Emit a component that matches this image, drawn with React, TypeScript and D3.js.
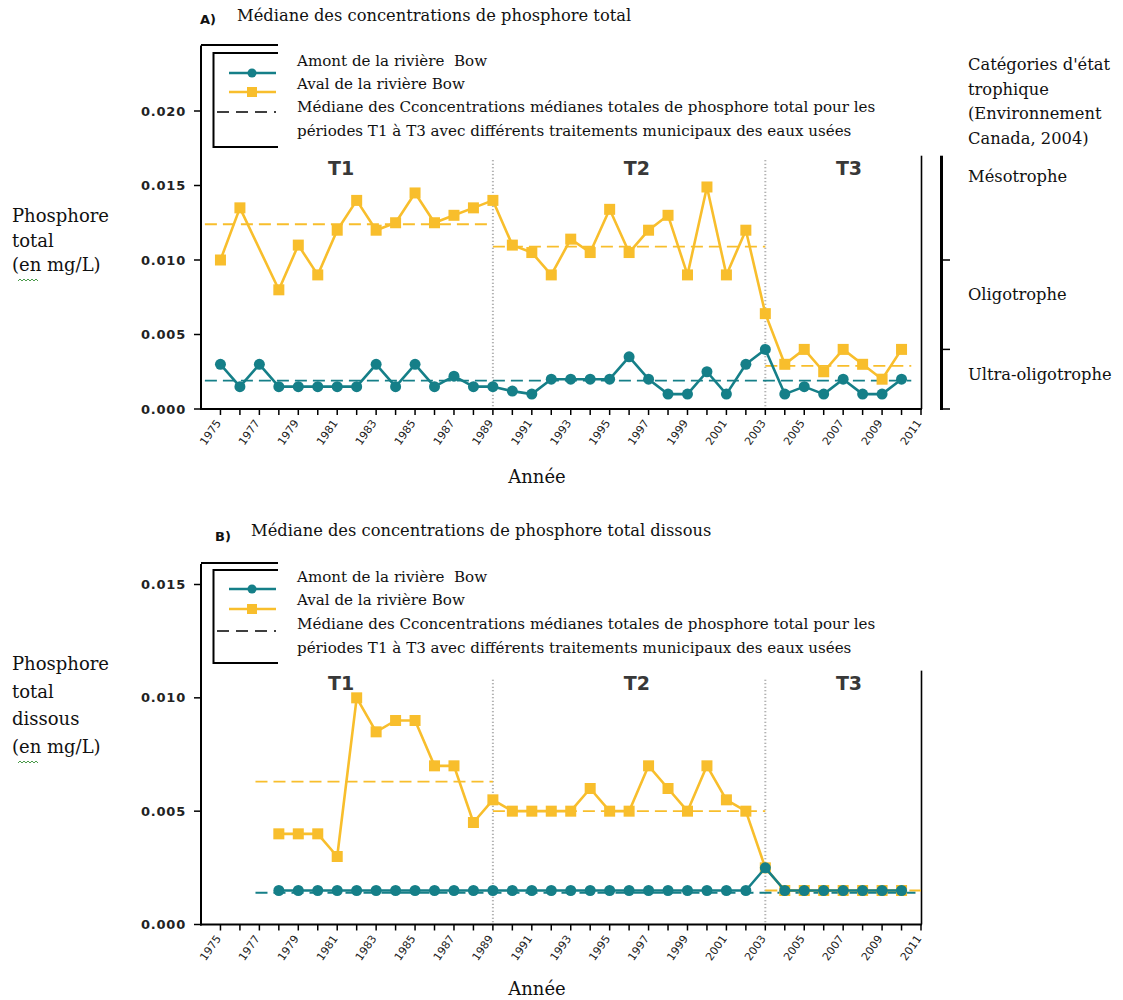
import { line, scaleLinear } from "d3";

// ---- data -------------------------------------------------------------
const YEARS_TOTAL = [
  1975, 1976, 1977, 1978, 1979, 1980, 1981, 1982, 1983, 1984, 1985, 1986,
  1987, 1988, 1989, 1990, 1991, 1992, 1993, 1994, 1995, 1996, 1997, 1998,
  1999, 2000, 2001, 2002, 2003, 2004, 2005, 2006, 2007, 2008, 2009, 2010,
];
const AMONT_TOTAL = [
  0.003, 0.0015, 0.003, 0.0015, 0.0015, 0.0015, 0.0015, 0.0015, 0.003, 0.0015, 0.003, 0.0015,
  0.0022, 0.0015, 0.0015, 0.0012, 0.001, 0.002, 0.002, 0.002, 0.002, 0.0035, 0.002, 0.001,
  0.001, 0.0025, 0.001, 0.003, 0.004, 0.001, 0.0015, 0.001, 0.002, 0.001, 0.001, 0.002,
];
const AVAL_TOTAL = [
  0.01, 0.0135, null, 0.008, 0.011, 0.009, 0.012, 0.014, 0.012, 0.0125, 0.0145, 0.0125,
  0.013, 0.0135, 0.014, 0.011, 0.0105, 0.009, 0.0114, 0.0105, 0.0134, 0.0105, 0.012, 0.013,
  0.009, 0.0149, 0.009, 0.012, 0.0064, 0.003, 0.004, 0.0025, 0.004, 0.003, 0.002, 0.004,
];
const MEDIANE_AVAL_TOTAL = [0.0124, 0.0109, 0.0029];
const MEDIANE_AMONT_TOTAL = 0.0019;

const YEARS_DISSOUS = [
  1978, 1979, 1980, 1981, 1982, 1983, 1984, 1985, 1986, 1987, 1988, 1989,
  1990, 1991, 1992, 1993, 1994, 1995, 1996, 1997, 1998, 1999, 2000, 2001,
  2002, 2003, 2004, 2005, 2006, 2007, 2008, 2009, 2010,
];
const AMONT_DISSOUS = [
  0.0015, 0.0015, 0.0015, 0.0015, 0.0015, 0.0015, 0.0015, 0.0015, 0.0015, 0.0015, 0.0015, 0.0015,
  0.0015, 0.0015, 0.0015, 0.0015, 0.0015, 0.0015, 0.0015, 0.0015, 0.0015, 0.0015, 0.0015, 0.0015,
  0.0015, 0.0025, 0.0015, 0.0015, 0.0015, 0.0015, 0.0015, 0.0015, 0.0015,
];
const AVAL_DISSOUS = [
  0.004, 0.004, 0.004, 0.003, 0.01, 0.0085, 0.009, 0.009, 0.007, 0.007, 0.0045, 0.0055,
  0.005, 0.005, 0.005, 0.005, 0.006, 0.005, 0.005, 0.007, 0.006, 0.005, 0.007, 0.0055,
  0.005, 0.0025, 0.0015, 0.0015, 0.0015, 0.0015, 0.0015, 0.0015, 0.0015,
];
const MEDIANE_AVAL_DISSOUS = [0.0063, 0.005, 0.0015];
const MEDIANE_AMONT_DISSOUS = 0.0014;

const PERIOD_BREAKS = [1989, 2003];
const PERIOD_LABELS = ["T1", "T2", "T3"];
const PERIOD_LABEL_YEARS = [1981.2, 1996.4, 2007.3];
const YEAR_LABELS = [
  1975, 1977, 1979, 1981, 1983, 1985, 1987, 1989, 1991, 1993, 1995, 1997, 1999,
  2001, 2003, 2005, 2007, 2009, 2011,
];
const YEAR_TICKS = [
  1975, 1976, 1977, 1978, 1979, 1980, 1981, 1982, 1983, 1984, 1985, 1986, 1987,
  1988, 1989, 1990, 1991, 1992, 1993, 1994, 1995, 1996, 1997, 1998, 1999, 2000,
  2001, 2002, 2003, 2004, 2005, 2006, 2007, 2008, 2009, 2010, 2011,
];
const Y_TICKS_TOTAL = [0, 0.005, 0.01, 0.015, 0.02];
const Y_TICKS_DISSOUS = [0, 0.005, 0.01, 0.015];

const TROPHIC_BOUNDS = [0, 0.004, 0.01];
const TROPHIC_TOP = 0.017;
const TROPHIC_LABELS = ["Mésotrophe", "Oligotrophe", "Ultra-oligotrophe"];
const TROPHIC_HEADER = ["Catégories d'état", "trophique", "(Environnement", "Canada, 2004)"];

const LEGEND_LABELS = [
  "Amont de la rivière\u00a0 Bow",
  "Aval de la rivière Bow",
  "Médiane des Cconcentrations médianes totales de phosphore total pour les",
  "périodes T1 à T3 avec différents traitements municipaux des eaux usées",
];

// ---- styles -----------------------------------------------------------
const TEAL = "#157f88";
const GOLD = "#f8be2c";
const SERIF = "'DejaVu Serif', serif";
const SANS = "'DejaVu Sans', Verdana, sans-serif";

const xScale = scaleLinear().domain([1974, 2011]).range([201, 921]);

type Pt = [number, number];

type PanelProps = {
  letter: string;
  title: string;
  letterX: number;
  letterY: number;
  titleX: number;
  titleY: number;
  yLabel: string[];
  yLabelY: number[];
  yDomain: [number, number];
  yRange: [number, number];
  yTicks: number[];
  axisTop: number;
  frameTop: number;
  boxTop: number;
  boxBottom: number;
  legendTextY: number[];
  legendMarkY: number[];
  periodLabelY: number;
  periodTop: number;
  borderTop: number;
  anneeY: number;
  years: number[];
  amont: (number | null)[];
  aval: (number | null)[];
  medianAval: number[];
  medianAmont: number;
  medianExtent: [number, number];
  squiggleY: number;
  trophic?: boolean;
};

function Panel(p: PanelProps) {
  const y = scaleLinear().domain(p.yDomain).range(p.yRange);
  const y0 = y(0);
  // missing years are skipped, the line joins the neighbours
  const pts = (vals: (number | null)[]): Pt[] =>
    p.years.map((yr, i) => [yr, vals[i]]).filter((d) => d[1] != null) as Pt[];
  const gen = line<Pt>()
    .x((d) => xScale(d[0]))
    .y((d) => y(d[1]));
  const amontPts = pts(p.amont);
  const avalPts = pts(p.aval);
  const bounds = [p.medianExtent[0], ...PERIOD_BREAKS, p.medianExtent[1]];
  const dash = "12 6";

  return (
    <g>
      <text x={p.letterX} y={p.letterY} fontFamily={SANS} fontWeight="bold" fontSize={13} fill="#111">
        {p.letter}
      </text>
      <text x={p.titleX} y={p.titleY} fontFamily={SERIF} fontSize={16.3} fill="#111">
        {p.title}
      </text>

      {/* legend frame (partly hidden behind the legend texts) */}
      <path d={`M201,${p.frameTop}H278`} stroke="#000" strokeWidth={2} fill="none" />
      <path d={`M278,${p.boxTop}H213.5V${p.boxBottom}H278`} stroke="#000" strokeWidth={2} fill="none" />
      <line x1={229} x2={276} y1={p.legendMarkY[0]} y2={p.legendMarkY[0]} stroke={TEAL} strokeWidth={2.5} />
      <circle cx={252} cy={p.legendMarkY[0]} r={4.5} fill={TEAL} />
      <line x1={229} x2={276} y1={p.legendMarkY[1]} y2={p.legendMarkY[1]} stroke={GOLD} strokeWidth={2.5} />
      <rect x={247} y={p.legendMarkY[1] - 5} width={10} height={10} fill={GOLD} />
      <line x1={217} x2={276} y1={p.legendMarkY[2]} y2={p.legendMarkY[2]} stroke="#000" strokeWidth={1.6} strokeDasharray="12 7" />
      {LEGEND_LABELS.map((t, i) => (
        <text key={t} x={297} y={p.legendTextY[i]} fontFamily={SERIF} fontSize={15.1} fill="#111">
          {t}
        </text>
      ))}

      {/* y axis label */}
      {p.yLabel.map((t, i) => (
        <text key={t} x={12} y={p.yLabelY[i]} fontFamily={SERIF} fontSize={18} fill="#111">
          {t}
        </text>
      ))}
      <path
        d={`M18,${p.squiggleY} l2,-2 l2,2 l2,-2 l2,2 l2,-2 l2,2 l2,-2 l2,2 l2,-2 l2,2`}
        stroke="#4a9a4a"
        strokeWidth={1}
        fill="none"
      />

      {/* period separators */}
      {PERIOD_BREAKS.map((yr) => (
        <line
          key={yr}
          x1={xScale(yr)}
          x2={xScale(yr)}
          y1={y(p.periodTop)}
          y2={y0}
          stroke="#9a9a9a"
          strokeWidth={2}
          strokeDasharray="1 2.5"
        />
      ))}
      {PERIOD_LABELS.map((t, i) => (
        <text
          key={t}
          x={xScale(PERIOD_LABEL_YEARS[i])}
          y={p.periodLabelY}
          textAnchor="middle"
          fontFamily={SANS}
          fontWeight="bold"
          fontSize={19}
          fill="#383838"
        >
          {t}
        </text>
      ))}

      {/* right border */}
      <line x1={921.5} x2={921.5} y1={y(p.borderTop)} y2={y0} stroke="#000" strokeWidth={1.6} />

      {/* medians */}
      {p.medianAval.map((v, i) => (
        <line
          key={i}
          x1={xScale(bounds[i])}
          x2={xScale(bounds[i + 1])}
          y1={y(v)}
          y2={y(v)}
          stroke={GOLD}
          strokeWidth={1.8}
          strokeDasharray={dash}
        />
      ))}
      <line
        x1={xScale(p.medianExtent[0])}
        x2={xScale(p.medianExtent[1])}
        y1={y(p.medianAmont)}
        y2={y(p.medianAmont)}
        stroke={TEAL}
        strokeWidth={1.8}
        strokeDasharray={dash}
      />

      {/* series */}
      <path d={gen(avalPts) ?? ""} fill="none" stroke={GOLD} strokeWidth={2.6} strokeLinejoin="round" />
      {avalPts.map((d) => (
        <rect key={d[0]} x={xScale(d[0]) - 5.5} y={y(d[1]) - 5.5} width={11} height={11} fill={GOLD} />
      ))}
      <path d={gen(amontPts) ?? ""} fill="none" stroke={TEAL} strokeWidth={2.6} strokeLinejoin="round" />
      {amontPts.map((d) => (
        <circle key={d[0]} cx={xScale(d[0])} cy={y(d[1])} r={5.5} fill={TEAL} />
      ))}

      {/* axes */}
      <line x1={201} x2={201} y1={y(p.axisTop)} y2={y0 + 1} stroke="#000" strokeWidth={2} />
      <line x1={200} x2={922} y1={y0} y2={y0} stroke="#000" strokeWidth={2} />
      {p.yTicks.map((v) => (
        <g key={v}>
          <line x1={194} x2={201} y1={y(v)} y2={y(v)} stroke="#000" strokeWidth={1.5} />
          <text
            x={186}
            y={y(v) + 4.5}
            textAnchor="end"
            fontFamily={SANS}
            fontWeight="bold"
            fontSize={13}
            letterSpacing={0.8}
            fill="#222"
          >
            {v.toFixed(3)}
          </text>
        </g>
      ))}
      {YEAR_TICKS.map((yr) => (
        <line key={yr} x1={xScale(yr)} x2={xScale(yr)} y1={y0} y2={y0 + 6} stroke="#000" strokeWidth={1.5} />
      ))}
      {YEAR_LABELS.map((yr) => (
        <text
          key={yr}
          transform={`translate(${xScale(yr) + 1},${y0 + 14}) rotate(-55)`}
          textAnchor="end"
          fontFamily={SANS}
          fontSize={11}
          fill="#222"
        >
          {yr}
        </text>
      ))}
      <text x={537} y={p.anneeY} textAnchor="middle" fontFamily={SERIF} fontSize={18} fill="#111">
        Année
      </text>

      {p.trophic ? (
        <g>
          <line x1={941.5} x2={941.5} y1={y(TROPHIC_TOP)} y2={y0 + 1} stroke="#000" strokeWidth={3} />
          {TROPHIC_BOUNDS.map((v) => (
            <line key={v} x1={941} x2={950} y1={y(v)} y2={y(v)} stroke="#000" strokeWidth={1.5} />
          ))}
          {TROPHIC_HEADER.map((t, i) => (
            <text key={t} x={968} y={70 + i * 24.5} fontFamily={SERIF} fontSize={16.3} fill="#111">
              {t}
            </text>
          ))}
          {TROPHIC_LABELS.map((t, i) => (
            <text key={t} x={968} y={[182, 300, 380][i]} fontFamily={SERIF} fontSize={16.3} fill="#111">
              {t}
            </text>
          ))}
        </g>
      ) : null}
    </g>
  );
}

export default function App() {
  return (
    <svg
      width={1123}
      height={1000}
      viewBox="0 0 1123 1000"
      style={{ position: "absolute", left: 0, top: 0, background: "#fff" }}
    >
      <rect width={1123} height={1000} fill="#fff" />
      <Panel
        letter="A)"
        title="Médiane des concentrations de phosphore total"
        letterX={200}
        letterY={24}
        titleX={237}
        titleY={21}
        yLabel={["Phosphore", "total", "(en mg/L)"]}
        yLabelY={[222, 247, 271]}
        yDomain={[0, 0.02]}
        yRange={[409, 111]}
        yTicks={Y_TICKS_TOTAL}
        axisTop={0.0244}
        frameTop={45}
        boxTop={53}
        boxBottom={147}
        legendTextY={[66, 89, 112, 136]}
        legendMarkY={[73, 92, 112]}
        periodLabelY={175}
        periodTop={0.0167}
        borderTop={0.017}
        anneeY={483}
        years={YEARS_TOTAL}
        amont={AMONT_TOTAL}
        aval={AVAL_TOTAL}
        medianAval={MEDIANE_AVAL_TOTAL}
        medianAmont={MEDIANE_AMONT_TOTAL}
        medianExtent={[1974.2, 2010.5]}
        squiggleY={281}
        trophic
      />
      <Panel
        letter="B)"
        title="Médiane des concentrations de phosphore total dissous"
        letterX={215}
        letterY={541}
        titleX={251}
        titleY={536}
        yLabel={["Phosphore", "total", "dissous", "(en mg/L)"]}
        yLabelY={[670, 698, 725, 753]}
        yDomain={[0, 0.015]}
        yRange={[924.5, 584.5]}
        yTicks={Y_TICKS_DISSOUS}
        axisTop={0.0159}
        frameTop={563}
        boxTop={570}
        boxBottom={663}
        legendTextY={[582, 605, 629, 653]}
        legendMarkY={[589, 609, 631]}
        periodLabelY={690}
        periodTop={0.0108}
        borderTop={0.0112}
        anneeY={995}
        years={YEARS_DISSOUS}
        amont={AMONT_DISSOUS}
        aval={AVAL_DISSOUS}
        medianAval={MEDIANE_AVAL_DISSOUS}
        medianAmont={MEDIANE_AMONT_DISSOUS}
        medianExtent={[1976.8, 2011]}
        squiggleY={763}
      />
    </svg>
  );
}
